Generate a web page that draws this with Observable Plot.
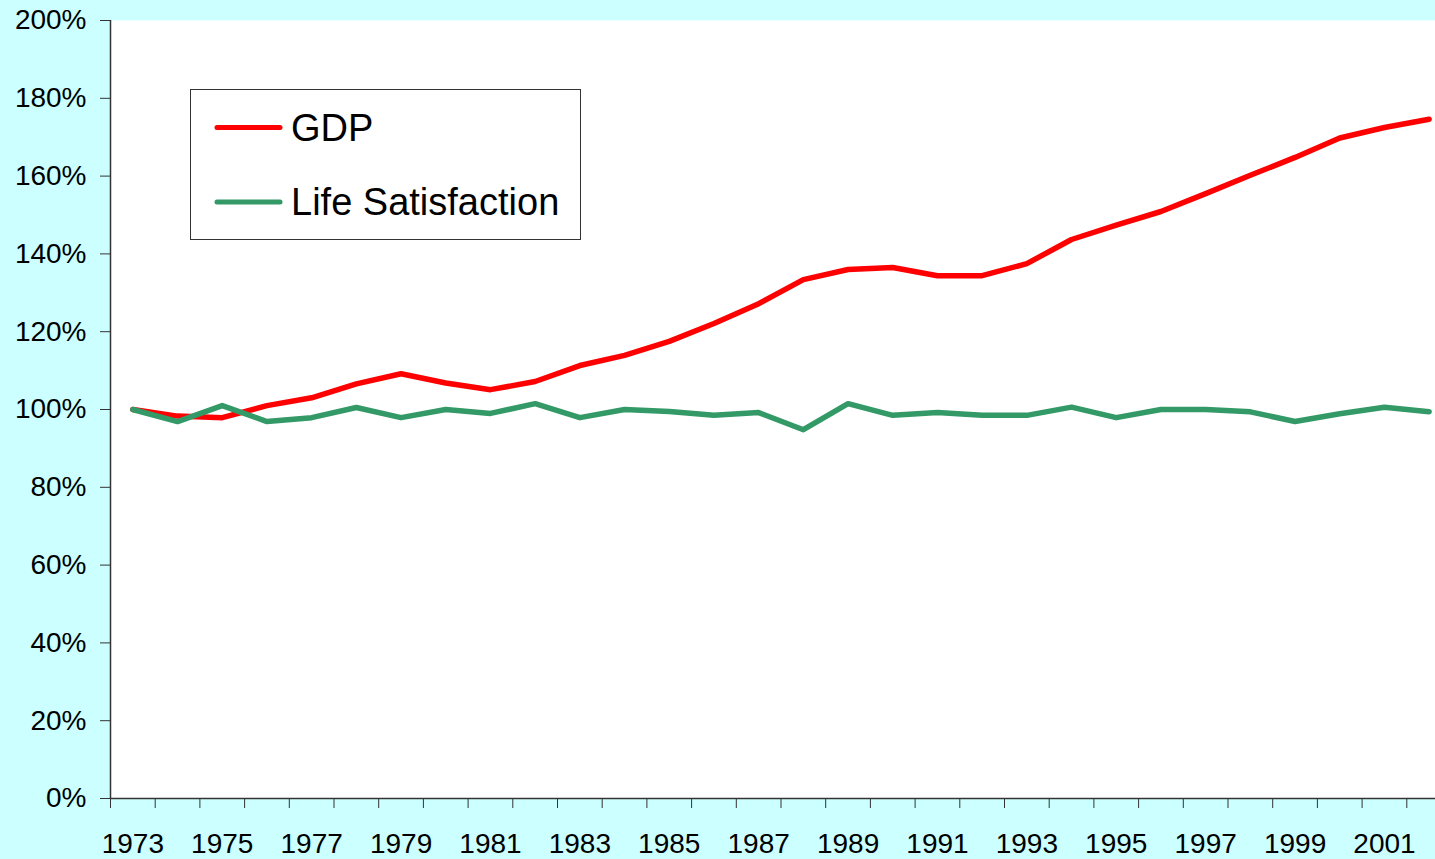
<!DOCTYPE html>
<html><head><meta charset="utf-8">
<script src="https://cdn.jsdelivr.net/npm/d3@7"></script>
<script src="https://cdn.jsdelivr.net/npm/@observablehq/plot@0.6"></script>
<style>
html,body{margin:0;padding:0;background:#CCFFFF;overflow:hidden;}
#wrap{position:relative;width:1435px;height:859px;}
#legend{position:absolute;left:0;top:0;pointer-events:none;}
</style></head><body><div id="wrap"></div>
<script>
const years = [1973,1974,1975,1976,1977,1978,1979,1980,1981,1982,1983,1984,1985,1986,1987,1988,1989,1990,1991,1992,1993,1994,1995,1996,1997,1998,1999,2000,2001,2002];
const gdp = [100,98.3,97.9,101,103,106.6,109.2,106.8,105.1,107.2,111.3,113.9,117.5,122.1,127.2,133.4,136,136.5,134.4,134.4,137.5,143.7,147.4,150.9,155.5,160.2,164.8,169.8,172.5,174.6];
const lifeSatisfaction = [100,96.9,101,96.9,97.9,100.5,97.9,100,99,101.5,97.9,100,99.5,98.5,99.2,94.8,101.5,98.5,99.2,98.5,98.5,100.6,97.9,100,100,99.4,96.9,98.9,100.6,99.4];
const yTicks = [0,20,40,60,80,100,120,140,160,180,200];
const xLabelYears = [1973,1975,1977,1979,1981,1983,1985,1987,1989,1991,1993,1995,1997,1999,2001];
const seriesNames = ["GDP","Life Satisfaction"];
const seriesColors = ["#FF0000","#339966"];

const rows = [];
years.forEach((yr,i)=>{
  rows.push({year:yr, series:seriesNames[0], value:gdp[i]});
  rows.push({year:yr, series:seriesNames[1], value:lifeSatisfaction[i]});
});
const bounds = years.map(y=>y-0.5).concat([years[years.length-1]+0.5]);
const font = "'Liberation Sans', Arial, sans-serif";

const chart = Plot.plot({
  width:1435, height:859,
  marginLeft:110, marginRight:0, marginTop:20, marginBottom:61,
  style:{background:"transparent", fontFamily:font, overflow:"visible", color:"black"},
  x:{type:"linear", domain:[bounds[0], bounds[bounds.length-1]], range:[110,1451], label:null},
  y:{domain:[0,200], label:null},
  color:{domain:seriesNames, range:seriesColors},
  marks:[
    Plot.frame({fill:"white", stroke:"none"}),
    Plot.ruleY([0], {stroke:"#333", strokeWidth:1.5}),
    Plot.ruleX([bounds[0]], {y1:0, y2:200, stroke:"#333", strokeWidth:1.5}),
    Plot.axisY({ticks:yTicks, tickFormat:d=>d+"%", tickSize:10, tickPadding:14, fontSize:28, stroke:"#333", label:null}),
    Plot.axisX({ticks:bounds, tickFormat:()=>"", tickSize:10, stroke:"#333", label:null}),
    Plot.axisX({ticks:xLabelYears, tickFormat:d=>String(d), tickSize:0, tickPadding:35, fontSize:28, label:null}),
    Plot.lineY(rows, {x:"year", y:"value", stroke:"series", strokeWidth:5.5, strokeLinejoin:"round", strokeLinecap:"round"})
  ]
});
const wrap = document.getElementById("wrap");
wrap.appendChild(chart);

// Legend overlay
const ns = "http://www.w3.org/2000/svg";
const lg = document.createElementNS(ns,"svg");
lg.setAttribute("id","legend");
lg.setAttribute("width","1435");
lg.setAttribute("height","859");
const rect = document.createElementNS(ns,"rect");
rect.setAttribute("x","190.5"); rect.setAttribute("y","89.5");
rect.setAttribute("width","390"); rect.setAttribute("height","150");
rect.setAttribute("fill","white"); rect.setAttribute("stroke","#333"); rect.setAttribute("stroke-width","1");
lg.appendChild(rect);
seriesNames.forEach((name,i)=>{
  const cy = 127.5 + i*74.5;
  const ln = document.createElementNS(ns,"line");
  ln.setAttribute("x1","217"); ln.setAttribute("x2","280");
  ln.setAttribute("y1",cy); ln.setAttribute("y2",cy);
  ln.setAttribute("stroke",seriesColors[i]); ln.setAttribute("stroke-width","5");
  ln.setAttribute("stroke-linecap","round");
  lg.appendChild(ln);
  const t = document.createElementNS(ns,"text");
  t.setAttribute("x","291"); t.setAttribute("y",cy+13);
  t.setAttribute("font-size","38"); t.setAttribute("font-family",font);
  t.setAttribute("fill","black");
  t.textContent = name;
  lg.appendChild(t);
});
wrap.appendChild(lg);
</script></body></html>
